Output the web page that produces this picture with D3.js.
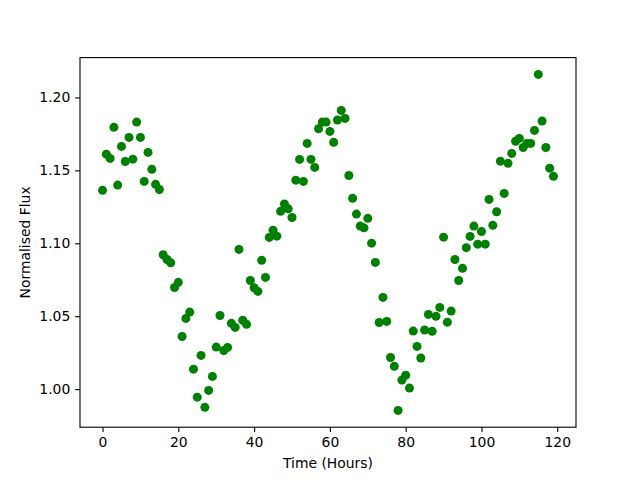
<!DOCTYPE html>
<html>
<head>
<meta charset="utf-8">
<script src="https://cdn.jsdelivr.net/npm/d3@7"></script>
<style>
  body { margin: 0; background: #ffffff; }
  #chart-container { width: 640px; height: 480px; }
  text { font-family: "DejaVu Sans", sans-serif; }
</style>
</head>
<body>
<div id="chart-container"></div>
<script>
// observation times, hours
const timeHours = [
  0, 1, 2, 3, 4, 5, 6, 7, 8, 9, 10, 11, 12, 13, 14, 15, 16, 17, 18, 19,
  20, 21, 22, 23, 24, 25, 26, 27, 28, 29, 30, 31, 32, 33, 34, 35, 36, 37, 38, 39,
  40, 41, 42, 43, 44, 45, 46, 47, 48, 49, 50, 51, 52, 53, 54, 55, 56, 57, 58, 59,
  60, 61, 62, 63, 64, 65, 66, 67, 68, 69, 70, 71, 72, 73, 74, 75, 76, 77, 78, 79,
  80, 81, 82, 83, 84, 85, 86, 87, 88, 89, 90, 91, 92, 93, 94, 95, 96, 97, 98, 99,
  100, 101, 102, 103, 104, 105, 106, 107, 108, 109, 110, 111, 112, 113, 114, 115, 116, 117, 118, 119
];

const normFlux = [
  1.1363, 1.1611, 1.1582, 1.1795, 1.1399, 1.1664, 1.1561, 1.1726, 1.1577, 1.1831,
  1.1726, 1.1424, 1.1623, 1.1507, 1.1404, 1.1369, 1.0921, 1.0889, 1.0866, 1.0697,
  1.0732, 1.0361, 1.0485, 1.0528, 1.0137, 0.9945, 1.0231, 0.9875, 0.9991, 1.0087,
  1.0288, 1.0505, 1.0265, 1.0286, 1.0451, 1.0423, 1.0958, 1.0472, 1.0444, 1.0745,
  1.0695, 1.0670, 1.0883, 1.0766, 1.1040, 1.1090, 1.1049, 1.1219, 1.1269, 1.1236,
  1.1177, 1.1433, 1.1575, 1.1424, 1.1685, 1.1575, 1.1520, 1.1785, 1.1831, 1.1831,
  1.1767, 1.1692, 1.1845, 1.1911, 1.1856, 1.1465, 1.1308, 1.1200, 1.1118, 1.1106,
  1.1171, 1.1001, 1.0869, 1.0457, 1.0629, 1.0464, 1.0217, 1.0156, 0.9854, 1.0062,
  1.0095, 1.0007, 1.0398, 1.0293, 1.0213, 1.0405, 1.0512, 1.0396, 1.0499, 1.0560,
  1.1042, 1.0459, 1.0535, 1.0889, 1.0745, 1.0828, 1.0970, 1.1047, 1.1118, 1.0994,
  1.1081, 1.0994, 1.1301, 1.1123, 1.1216, 1.1563, 1.1342, 1.1548, 1.1616, 1.1699,
  1.1719, 1.1657, 1.1685, 1.1685, 1.1774, 1.2158, 1.1838, 1.1657, 1.1515, 1.1459
];

const xTicks = [0, 20, 40, 60, 80, 100, 120];
const yTicks = [1.0, 1.05, 1.1, 1.15, 1.2];

const xLabel = "Time (Hours)";
const yLabel = "Normalised Flux";

const totalWidth = 640;
const totalHeight = 480;
// matplotlib default subplot box
const margin = { top: 57.6, right: 64, bottom: 52.8, left: 80 };
const width = totalWidth - margin.left - margin.right;
const height = totalHeight - margin.top - margin.bottom;

const points = timeHours.map((t, i) => ({ x: t, y: normFlux[i] }));

// autoscale with 5% padding like matplotlib
const pad = (ext) => {
  const span = ext[1] - ext[0];
  return [ext[0] - span * 0.05, ext[1] + span * 0.05];
};

const x = d3.scaleLinear().domain(pad(d3.extent(points, (d) => d.x))).range([0, width]);
const y = d3.scaleLinear().domain(pad(d3.extent(points, (d) => d.y))).range([height, 0]);

const svg = d3
  .select("#chart-container")
  .append("svg")
  .attr("width", totalWidth)
  .attr("height", totalHeight)
  .append("g")
  .attr("transform", `translate(${margin.left},${margin.top})`);

const tickLen = 4.86;
const tickPad = 4.86;

const xAxis = svg
  .append("g")
  .attr("transform", `translate(0,${height})`)
  .call(
    d3.axisBottom(x)
      .tickValues(xTicks)
      .tickSize(tickLen)
      .tickPadding(tickPad)
      .tickFormat(d3.format("d"))
  );

const yAxis = svg
  .append("g")
  .call(
    d3.axisLeft(y)
      .tickValues(yTicks)
      .tickSize(tickLen)
      .tickPadding(tickPad)
      .tickFormat(d3.format(".2f"))
  );

[xAxis, yAxis].forEach((ax) => {
  ax.select(".domain").remove();
  ax.selectAll(".tick line").attr("stroke", "#000").attr("stroke-width", 1.1);
  ax.selectAll("text")
    .attr("fill", "#000")
    .style("font-size", "13.9px")
    .style("font-family", "DejaVu Sans, sans-serif");
});

svg
  .append("g")
  .selectAll("circle")
  .data(points)
  .join("circle")
  .attr("cx", (d) => x(d.x))
  .attr("cy", (d) => y(d.y))
  .attr("r", 4.5)
  .attr("fill", "#008000");

// spines
svg
  .append("rect")
  .attr("x", 0)
  .attr("y", 0)
  .attr("width", width)
  .attr("height", height)
  .attr("fill", "none")
  .attr("stroke", "#000")
  .attr("stroke-width", 1.1);

svg
  .append("text")
  .attr("x", width / 2)
  .attr("y", height + 41)
  .attr("text-anchor", "middle")
  .style("font-size", "13.9px")
  .text(xLabel);

svg
  .append("text")
  .attr("transform", `translate(${-50},${height / 2}) rotate(-90)`)
  .attr("text-anchor", "middle")
  .style("font-size", "13.9px")
  .text(yLabel);
</script>
</body>
</html>
